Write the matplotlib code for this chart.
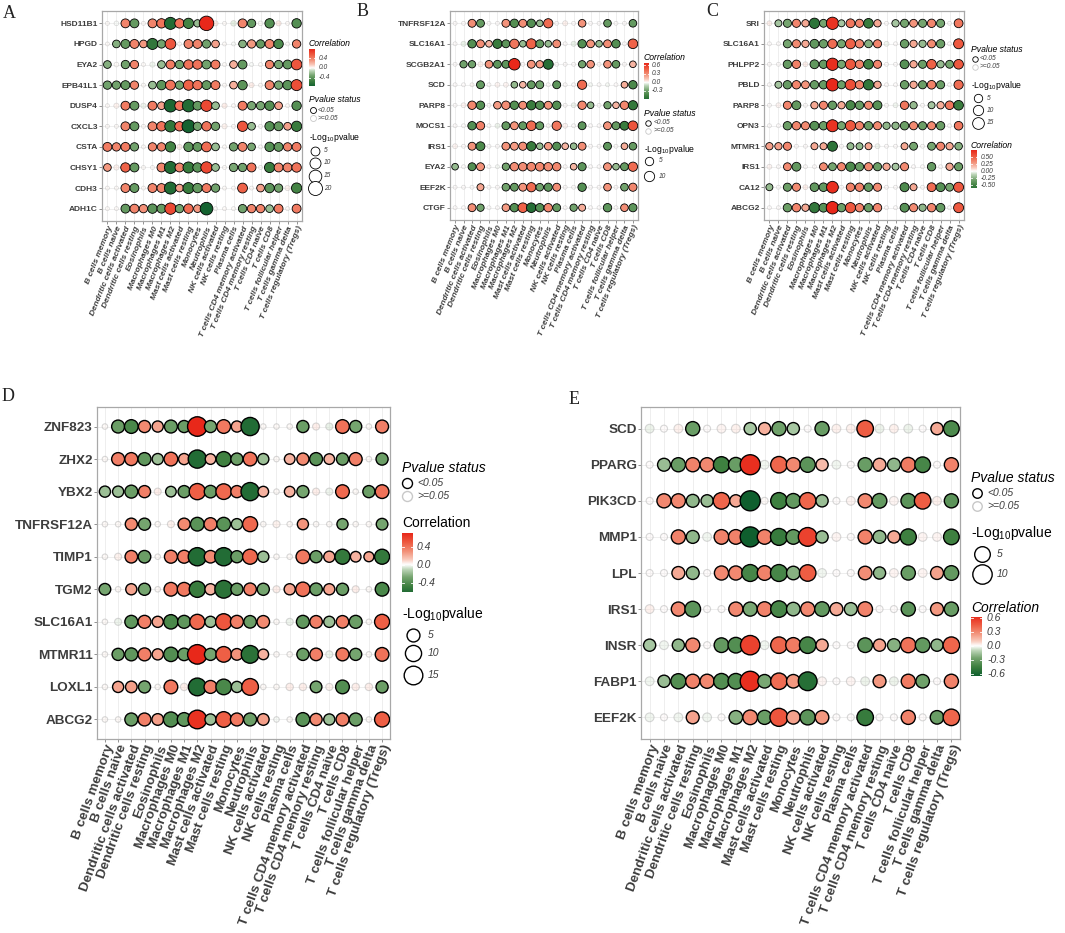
import numpy as np
import matplotlib
matplotlib.use("Agg")
import matplotlib.pyplot as plt
from matplotlib.colors import LinearSegmentedColormap

plt.rcParams["font.family"] = ["Liberation Sans", "DejaVu Sans"]
plt.rcParams["mathtext.fontset"] = "custom"
plt.rcParams["mathtext.rm"] = "Liberation Sans"
plt.rcParams["mathtext.it"] = "Liberation Sans:italic"
plt.rcParams["mathtext.default"] = "regular"

cells = ["B cells memory", "B cells naive", "Dendritic cells activated", "Dendritic cells resting",
         "Eosinophils", "Macrophages M0", "Macrophages M1", "Macrophages M2", "Mast cells activated",
         "Mast cells resting", "Monocytes", "Neutrophils", "NK cells activated", "NK cells resting",
         "Plasma cells", "T cells CD4 memory activated", "T cells CD4 memory resting",
         "T cells CD4 naive", "T cells CD8", "T cells follicular helper", "T cells gamma delta",
         "T cells regulatory (Tregs)"]

# ---------------- panel A ----------------
genes_a = ["HSD11B1", "HPGD", "EYA2", "EPB41L1", "DUSP4", "CXCL3", "CSTA", "CHSY1", "CDH3", "ADH1C"]
corr_a = [
    [0.03, -0.03, 0.38, -0.38, 0.03, 0.38, 0.45, -0.68, 0.45, -0.52, -0.22, 0.78, 0.15, 0.03, -0.15, 0.38, -0.38, 0.03, -0.45, 0.15, 0.03, -0.45],
    [0.03, -0.27, -0.38, 0.38, 0.3, -0.6, -0.33, 0.57, 0.03, 0.38, 0.38, -0.33, 0.27, 0.03, -0.03, -0.27, 0.3, -0.38, 0.38, -0.48, 0.03, 0.38],
    [-0.27, 0.03, -0.33, 0.38, 0.03, -0.08, -0.22, 0.42, -0.33, 0.45, 0.45, -0.33, 0.42, 0.03, 0.22, -0.38, -0.03, 0.03, 0.38, -0.3, -0.38, 0.57],
    [-0.33, -0.33, -0.38, 0.38, 0.03, -0.22, -0.42, 0.45, -0.33, 0.52, 0.45, -0.38, 0.42, 0.03, 0.22, -0.42, 0.12, 0.03, 0.38, -0.3, -0.42, 0.6],
    [0.03, 0.09, 0.42, -0.38, -0.09, 0.42, 0.27, -0.72, 0.45, -0.68, -0.38, 0.63, -0.22, 0.12, 0.03, 0.42, -0.3, -0.3, -0.45, 0.27, 0.03, -0.45],
    [0.03, 0.03, 0.38, -0.38, 0.03, 0.38, 0.45, -0.6, 0.48, -0.75, -0.33, 0.45, -0.33, 0.09, 0.03, 0.57, -0.22, 0.03, -0.45, -0.38, 0.27, -0.57],
    [0.42, 0.38, 0.42, -0.33, 0.03, 0.38, 0.38, -0.52, 0.12, -0.42, -0.38, 0.48, -0.22, 0.03, -0.33, 0.38, -0.3, 0.03, -0.45, -0.38, 0.38, 0.42],
    [0.3, 0.09, 0.52, -0.38, 0.03, 0.03, 0.38, -0.68, 0.38, -0.57, -0.42, 0.63, -0.22, 0.03, -0.3, -0.33, 0.45, 0.03, -0.57, 0.38, 0.38, 0.45],
    [0.03, 0.03, 0.38, -0.38, 0.03, 0.38, 0.38, -0.68, 0.27, -0.57, -0.38, 0.42, -0.33, 0.03, 0.03, 0.52, 0.03, 0.27, -0.42, -0.33, 0.09, -0.52],
    [0.03, 0.03, -0.38, 0.38, 0.33, -0.42, -0.38, 0.63, -0.33, 0.48, 0.3, -0.75, 0.03, 0.03, 0.03, -0.33, 0.38, 0.38, -0.22, 0.42, 0.03, 0.42],
]
logp_a = [
    [0.3, 0.4, 5, 5, 0.3, 5, 6, 13, 6, 8, 2.5, 22, 0.6, 0.3, 0.8, 5, 4, 0.4, 6, 0.6, 0.3, 6],
    [0.3, 3, 5, 5, 3, 10, 4, 9, 0.3, 5, 5, 4, 3, 0.3, 0.3, 3, 4, 4, 5, 6, 0.3, 4],
    [3, 0.4, 4, 4, 0.3, 0.6, 3, 5, 4, 6, 6, 5, 5, 0.3, 3, 5, 0.3, 0.3, 4, 4, 5, 9],
    [4, 4, 5, 4, 0.3, 3, 6, 7, 4, 8, 6, 5, 5, 0.3, 3, 6, 0.6, 0.3, 5, 4, 6, 10],
    [0.3, 0.6, 5, 5, 0.6, 5, 3, 15, 6, 14, 5, 11, 3, 0.6, 0.3, 5, 4, 4, 6, 3, 0.3, 6],
    [0.3, 0.3, 5, 5, 0.3, 5, 6, 11, 6, 16, 4, 6, 4, 0.6, 0.3, 8, 3, 0.3, 6, 5, 3, 8],
    [5, 4, 5, 4, 0.3, 4, 4, 8, 0.6, 6, 5, 7, 3, 0.3, 4, 5, 3, 0.3, 6, 5, 4, 5],
    [3, 0.6, 6, 5, 0.3, 0.3, 5, 13, 5, 10, 6, 11, 3, 0.3, 4, 4, 5, 0.3, 8, 5, 5, 6],
    [0.3, 0.3, 5, 5, 0.3, 5, 5, 13, 3, 10, 6, 5, 4, 0.3, 0.3, 7, 0.3, 3, 6, 4, 0.6, 8],
    [0.3, 0.3, 5, 5, 4, 6, 5, 11, 4, 6, 3, 15, 0.3, 0.3, 0.3, 4, 4, 4, 3, 5, 0.3, 5],
]

# ---------------- panel B ----------------
genes_b = ["TNFRSF12A", "SLC16A1", "SCGB2A1", "SCD", "PARP8", "MOCS1", "IRS1", "EYA2", "EEF2K", "CTGF"]
corr_b = [
    [0.02, 0.02, 0.3, -0.33, 0.02, 0.02, 0.28, -0.39, 0.3, -0.39, -0.2, 0.42, 0.02, 0.08, 0.02, 0.28, 0.02, 0.02, -0.33, 0.02, 0.02, -0.33],
    [0.02, -0.1, -0.39, 0.3, 0.18, -0.49, -0.36, 0.38, -0.2, 0.45, -0.33, -0.2, 0.3, 0.02, -0.1, -0.39, 0.28, -0.2, 0.3, -0.39, 0.02, 0.45],
    [0.02, -0.29, -0.29, 0.08, 0.28, -0.36, -0.36, 0.68, 0.02, 0.28, 0.25, -0.58, 0.02, 0.02, 0.02, -0.29, 0.28, 0.02, 0.28, -0.33, 0.02, 0.18],
    [0.02, 0.02, 0.05, -0.33, 0.02, 0.06, 0.06, -0.2, 0.18, -0.33, -0.29, 0.02, -0.36, 0.02, 0.02, 0.42, -0.04, 0.02, -0.04, 0.02, 0.2, -0.42],
    [0.02, 0.06, 0.32, -0.39, 0.02, 0.25, 0.3, -0.39, 0.3, -0.49, -0.39, 0.28, -0.39, 0.02, -0.08, 0.32, -0.2, 0.02, -0.29, 0.18, 0.32, -0.52],
    [0.02, 0.02, -0.39, 0.35, 0.02, -0.08, -0.33, 0.28, -0.33, 0.42, -0.33, 0.03, 0.38, 0.06, 0.02, -0.36, 0.02, 0.02, 0.28, -0.33, -0.49, 0.5],
    [0.06, 0.02, 0.28, -0.42, 0.02, 0.02, 0.28, 0.25, 0.3, -0.49, -0.2, 0.25, -0.39, 0.18, -0.2, 0.3, 0.02, 0.02, -0.36, 0.02, 0.2, -0.33],
    [-0.2, 0.02, -0.39, 0.28, 0.02, -0.04, -0.29, 0.3, 0.3, 0.32, 0.32, 0.3, 0.32, 0.02, 0.18, -0.36, 0.02, 0.02, 0.28, -0.2, -0.33, 0.42],
    [0.02, 0.02, 0.02, 0.22, 0.02, 0.02, -0.29, -0.33, 0.28, 0.42, -0.29, -0.36, 0.3, 0.02, 0.02, -0.39, 0.02, 0.02, 0.28, 0.02, -0.29, 0.32],
    [0.02, 0.02, 0.3, -0.29, 0.02, 0.02, 0.25, -0.39, 0.45, -0.58, -0.39, 0.32, -0.33, 0.02, -0.29, 0.2, 0.02, 0.02, -0.36, 0.02, 0.3, -0.36],
]
logp_b = [
    [0.3, 0.3, 4, 4, 0.3, 0.3, 4, 5, 4, 5, 2, 7, 0.3, 0.6, 0.3, 3.5, 0.3, 0.3, 3.5, 0.3, 0.3, 3.5],
    [0.3, 0.6, 5, 4, 2, 7, 4, 7, 2, 9, 4, 2, 4, 0.3, 0.6, 5, 4, 2, 4, 5, 0.3, 8],
    [0.3, 3, 3, 0.6, 3.5, 4, 4, 14, 0.3, 4, 3, 9, 0.3, 0.3, 0.3, 3, 3.5, 0.3, 3.5, 3.5, 0.3, 2],
    [0.3, 0.3, 0.3, 4, 0.3, 0.5, 0.5, 2, 2, 4, 4, 0.3, 4, 0.3, 0.3, 7, 0.3, 0.3, 0.3, 0.3, 2, 5],
    [0.3, 0.5, 5, 5, 0.3, 3.5, 5, 5, 4, 7, 5, 4, 5, 0.3, 0.5, 5, 2, 0.3, 3, 2, 5, 7],
    [0.3, 0.3, 5, 5, 0.3, 0.5, 4, 4, 4, 8, 4, 0.3, 7, 0.5, 0.3, 4, 0.3, 0.3, 4, 4, 6, 8],
    [0.5, 0.3, 4, 6, 0.3, 0.3, 4, 4, 4.5, 7, 2, 3.5, 4.5, 2, 2, 4, 0.3, 0.3, 4, 0.3, 2, 3.5],
    [2, 0.3, 4, 4, 0.3, 0.3, 3, 5, 5, 5.5, 5.5, 5, 5, 0.3, 2, 4.5, 0.3, 0.3, 4, 2, 4, 7],
    [0.3, 0.3, 0.3, 2.5, 0.3, 0.3, 3.5, 4, 4, 7, 3.5, 4.5, 4, 0.3, 0.3, 5, 0.3, 0.3, 3.5, 0.3, 3.5, 4.5],
    [0.3, 0.3, 4, 3, 0.3, 0.3, 3.5, 5, 8, 8, 5, 5, 4, 0.3, 3, 2.5, 0.3, 0.3, 5, 0.3, 3.5, 4.5],
]

# ---------------- panel C ----------------
genes_c = ["SRI", "SLC16A1", "PHLPP2", "PBLD", "PARP8", "OPN3", "MTMR1", "IRS1", "CA12", "ABCG2"]
corr_c = [
    [0.1, -0.18, -0.3, 0.36, 0.24, -0.6, -0.3, 0.7, -0.18, 0.42, 0.36, -0.54, 0.24, 0.02, -0.18, -0.3, 0.3, -0.3, 0.36, -0.3, 0.02, 0.42],
    [0.02, 0.02, -0.3, 0.34, 0.24, -0.38, -0.34, 0.46, -0.3, 0.5, 0.36, -0.26, 0.36, -0.07, 0.02, -0.34, 0.24, -0.22, 0.34, -0.34, 0.02, 0.54],
    [0.02, 0.02, -0.36, 0.38, 0.1, -0.38, -0.36, 0.72, -0.3, 0.54, 0.38, -0.5, 0.36, 0.02, 0.02, -0.42, 0.24, -0.34, 0.5, -0.22, -0.3, 0.54],
    [0.02, -0.18, -0.36, 0.36, 0.3, -0.36, -0.36, 0.74, -0.34, 0.58, 0.38, -0.58, 0.24, 0.02, 0.02, -0.34, 0.24, -0.34, 0.38, -0.34, 0.02, 0.46],
    [0.02, 0.07, 0.36, -0.38, 0.02, 0.24, 0.36, -0.36, 0.24, -0.48, -0.36, 0.34, -0.42, 0.02, -0.07, 0.42, -0.22, 0.02, -0.18, 0.22, 0.42, -0.54],
    [0.02, 0.02, -0.34, 0.36, 0.34, -0.42, -0.34, 0.7, -0.3, 0.54, 0.38, -0.34, 0.34, -0.24, -0.24, -0.34, 0.34, -0.34, 0.34, -0.34, 0.02, 0.42],
    [0.26, 0.26, 0.36, 0.02, 0.02, 0.24, 0.24, -0.6, 0.02, -0.22, -0.22, 0.24, -0.07, 0.02, 0.02, 0.24, -0.3, 0.02, -0.3, 0.36, 0.24, -0.26],
    [0.07, 0.02, 0.34, -0.38, 0.02, 0.02, 0.34, -0.3, 0.36, -0.46, -0.34, 0.34, -0.34, 0.24, -0.18, 0.34, 0.02, 0.02, -0.36, 0.02, 0.24, -0.34],
    [-0.22, 0.02, -0.34, 0.34, 0.1, -0.38, -0.38, 0.72, 0.02, 0.38, 0.38, -0.36, 0.34, 0.02, 0.02, -0.46, 0.24, 0.02, 0.46, -0.42, -0.3, 0.54],
    [0.02, 0.02, -0.34, 0.36, 0.24, -0.58, -0.42, 0.75, -0.34, 0.54, 0.38, -0.34, 0.36, 0.02, 0.02, -0.42, 0.34, -0.24, 0.36, -0.36, 0.02, 0.54],
]
logp_c = [
    [0.5, 2.5, 4.5, 4.5, 3, 10, 4, 17, 2.5, 6, 4.5, 8, 3, 0.3, 3, 4.5, 4, 4.5, 5, 4.5, 0.3, 6],
    [0.3, 0.3, 4.5, 4.5, 3, 6, 5, 7, 4.5, 9, 5, 4, 4.5, 0.5, 0.3, 5, 3, 3, 4.5, 5, 0.3, 9],
    [0.3, 0.3, 5, 5, 0.5, 6, 5, 17, 4.5, 10, 5, 8, 4.5, 0.3, 0.3, 6, 3, 4.5, 8, 3, 4, 8],
    [0.3, 2.5, 5, 5, 4, 5, 5, 18, 4.5, 11, 5, 10, 3, 0.3, 0.3, 5, 3, 4.5, 5.5, 4.5, 0.3, 7],
    [0.3, 0.5, 4.5, 6, 0.3, 3, 4.5, 5, 3, 7, 5, 4.5, 6, 0.3, 0.5, 5, 3, 0.3, 2.5, 3, 5.5, 8],
    [0.3, 0.3, 5, 5, 4.5, 6, 5, 16, 4.5, 10, 5, 5, 4.5, 3, 3, 5, 4.5, 4.5, 4.5, 5, 0.3, 5.5],
    [3, 3, 4.5, 0.3, 0.3, 2.5, 2.5, 9, 0.3, 2.5, 2.5, 2.5, 0.5, 0.3, 0.3, 2.5, 4, 0.3, 4, 4.5, 3, 3.5],
    [0.5, 0.3, 4, 6, 0.3, 0.3, 4, 4, 4.5, 7, 5, 4.5, 4.5, 3, 2.5, 4.5, 0.3, 0.3, 5, 0.3, 3, 4.5],
    [2.5, 0.3, 4.5, 4.5, 0.5, 5.5, 5.5, 15, 0.3, 5, 5, 5, 4.5, 0.3, 0.3, 6.5, 2.5, 0.3, 6, 6, 4, 9],
    [0.3, 0.3, 5, 5, 3, 10, 6, 18, 5, 10, 5, 5, 5, 0.3, 0.3, 6, 4.5, 3, 5, 5.5, 0.3, 9],
]

# ---------------- panel D ----------------
genes_d = ["ZNF823", "ZHX2", "YBX2", "TNFRSF12A", "TIMP1", "TGM2", "SLC16A1", "MTMR11", "LOXL1", "ABCG2"]
corr_d = [
    [0.03, -0.32, -0.44, 0.32, 0.23, -0.32, -0.32, 0.7, -0.28, 0.38, 0.23, -0.61, 0.03, 0.03, 0.03, -0.32, 0.1, -0.1, 0.41, -0.28, 0.03, 0.36],
    [0.03, 0.36, 0.38, -0.36, -0.19, 0.41, 0.23, -0.61, 0.19, -0.48, -0.32, 0.41, -0.19, 0.03, 0.19, 0.32, -0.38, 0.19, -0.32, 0.36, 0.03, -0.32],
    [-0.19, -0.19, -0.32, 0.36, 0.1, -0.19, -0.32, 0.48, -0.32, 0.44, 0.36, -0.61, 0.19, 0.03, 0.19, -0.28, 0.1, -0.08, 0.44, 0.03, -0.32, 0.41],
    [0.03, 0.03, 0.32, -0.28, 0.03, 0.08, 0.32, -0.38, 0.36, -0.38, -0.19, 0.44, 0.03, 0.08, 0.03, 0.28, 0.03, 0.03, -0.28, 0.03, 0.03, -0.28],
    [0.03, 0.08, 0.36, -0.32, 0.03, 0.36, 0.36, -0.61, 0.32, -0.61, -0.32, 0.44, -0.19, 0.03, 0.03, 0.38, -0.32, 0.23, -0.53, 0.19, 0.23, -0.53],
    [-0.28, 0.03, 0.23, -0.28, 0.03, 0.38, 0.38, -0.51, 0.19, -0.57, -0.32, 0.36, -0.28, 0.1, 0.23, 0.41, -0.32, 0.23, -0.32, 0.1, 0.03, -0.44],
    [0.03, -0.08, -0.36, 0.36, 0.23, -0.44, -0.36, 0.44, -0.19, 0.51, 0.36, -0.32, 0.32, 0.03, -0.08, -0.36, 0.36, -0.19, 0.36, -0.32, 0.03, 0.48],
    [0.03, -0.32, -0.36, 0.36, 0.23, -0.41, -0.32, 0.7, -0.28, 0.48, 0.28, -0.57, 0.19, 0.03, 0.03, -0.32, 0.36, -0.08, 0.38, -0.28, 0.03, 0.41],
    [0.03, 0.23, 0.25, -0.28, 0.03, 0.38, 0.1, -0.61, 0.36, -0.44, -0.19, 0.48, 0.03, 0.03, 0.1, 0.1, -0.28, 0.08, -0.41, 0.1, 0.1, -0.32],
    [0.03, 0.03, -0.32, 0.36, 0.25, -0.41, -0.36, 0.66, -0.19, 0.48, 0.38, -0.32, 0.25, -0.03, 0.03, -0.38, 0.32, -0.19, 0.36, -0.32, 0.03, 0.48],
]
logp_d = [
    [0.3, 5, 6, 4, 3, 5, 4, 17, 4, 6, 3, 14, 0.3, 0.3, 0.3, 4, 0.5, 0.5, 6, 4, 0.3, 5],
    [0.3, 5, 5, 5, 3, 6, 3, 14, 2.5, 8, 4, 6, 3, 0.3, 2.5, 4, 5, 2.5, 4, 5, 0.3, 4],
    [3, 3, 5, 4, 0.5, 2.5, 4, 10, 4.5, 9, 4, 14, 2.5, 0.3, 2.5, 4, 0.5, 0.5, 6, 0.3, 4, 6],
    [0.3, 0.3, 4, 4, 0.3, 0.5, 4, 6, 5, 6, 3, 8, 0.3, 0.5, 0.3, 3, 0.3, 0.3, 3, 0.3, 0.3, 3.5],
    [0.3, 0.5, 4.5, 4.5, 0.3, 5, 5, 14, 4.5, 14, 4, 8, 3, 0.3, 0.3, 6, 4, 3, 8, 2.5, 2, 8],
    [3.5, 0.3, 3, 4, 0.3, 6, 6, 10, 3, 13, 4, 4.5, 4, 0.5, 3, 7, 4.5, 3, 4, 0.5, 0.3, 6],
    [0.3, 0.5, 5, 5, 3, 7, 5, 8, 3, 10, 5, 4.5, 4.5, 0.3, 0.5, 5, 4.5, 3, 4.5, 5, 0.3, 8],
    [0.3, 4, 5, 5, 3, 7, 4.5, 17, 4, 9, 3.5, 13, 2.5, 0.3, 0.3, 4, 4.5, 0.5, 5, 4, 0.3, 6],
    [0.3, 3, 3.5, 4, 0.3, 6, 0.6, 13, 5, 9, 3, 11, 0.3, 0.3, 0.6, 0.6, 3.5, 0.5, 6, 0.6, 0.6, 4],
    [0.3, 0.3, 5, 5, 3.5, 8, 6, 15, 3, 9, 5, 5, 3.5, 0.3, 0.3, 6, 4, 3, 5, 5, 0.3, 8],
]

# ---------------- panel E ----------------
genes_e = ["SCD", "PPARG", "PIK3CD", "MMP1", "LPL", "IRS1", "INSR", "FABP1", "EEF2K"]
corr_e = [
    [-0.08, 0.02, 0.08, -0.3, 0.02, 0.06, 0.08, -0.15, 0.18, -0.28, -0.15, 0.02, -0.3, 0.08, 0.08, 0.45, -0.08, 0.08, -0.08, 0.02, 0.2, -0.4],
    [0.02, -0.18, -0.3, 0.32, 0.3, -0.45, -0.3, 0.62, -0.06, 0.42, 0.3, -0.35, 0.15, -0.06, 0.02, -0.3, 0.2, -0.2, 0.35, -0.42, 0.02, 0.32],
    [0.02, 0.3, 0.3, -0.2, -0.18, 0.42, 0.2, -0.65, 0.03, -0.45, -0.32, 0.42, -0.18, 0.02, 0.06, 0.3, -0.32, 0.06, -0.35, 0.45, 0.08, -0.35],
    [0.02, 0.02, 0.32, -0.2, -0.06, 0.32, 0.32, -0.65, 0.32, -0.48, -0.32, 0.55, -0.18, 0.06, 0.02, 0.32, -0.2, 0.2, -0.45, 0.06, 0.06, -0.45],
    [0.02, 0.02, 0.2, -0.2, 0.02, 0.3, 0.3, -0.42, 0.32, -0.42, -0.22, 0.45, -0.06, 0.02, 0.02, 0.28, -0.2, 0.06, -0.3, 0.06, 0.22, -0.32],
    [0.08, 0.02, 0.3, -0.35, 0.02, 0.02, 0.3, -0.25, 0.32, -0.42, -0.2, 0.3, -0.32, 0.2, -0.18, 0.32, 0.02, 0.02, -0.35, 0.02, 0.25, -0.3],
    [-0.15, -0.06, -0.2, 0.3, 0.02, -0.32, -0.38, 0.55, -0.06, 0.42, 0.35, -0.42, 0.2, 0.02, 0.02, -0.35, 0.22, -0.22, 0.38, -0.32, -0.2, 0.42],
    [-0.06, -0.18, -0.38, 0.32, 0.3, -0.38, -0.38, 0.62, -0.25, 0.4, 0.25, -0.55, 0.06, 0.02, 0.06, -0.08, 0.25, -0.08, 0.35, -0.28, 0.02, 0.32],
    [-0.06, 0.02, -0.06, 0.22, -0.06, 0.02, -0.22, 0.3, -0.3, 0.48, 0.22, -0.35, 0.25, 0.02, 0.02, -0.48, 0.02, 0.02, 0.32, 0.02, -0.3, 0.42],
]
logp_e = [
    [0.5, 0.3, 0.5, 3.5, 0.3, 0.5, 0.5, 2, 2, 3.5, 2, 0.3, 3.5, 0.5, 0.5, 6, 0.5, 0.5, 0.5, 0.3, 2, 5],
    [0.3, 2.5, 3.5, 3.5, 3.5, 5.5, 4, 11, 0.5, 6, 3.5, 4.5, 2, 0.5, 0.3, 3.5, 2.5, 2.5, 4, 5, 0.3, 3.5],
    [0.3, 3.5, 3.5, 2.5, 2, 6, 2, 11, 0.3, 6, 4, 6, 2, 0.3, 0.5, 3.5, 4, 0.5, 4, 6, 0.5, 3.5],
    [0.3, 0.3, 3.5, 2.5, 0.5, 4, 4, 11, 4, 6.5, 4, 9, 2, 0.5, 0.3, 3.5, 2.5, 2, 5.5, 0.5, 0.5, 5],
    [0.3, 0.3, 2.5, 2.5, 0.3, 3.5, 3.5, 6.5, 4, 6.5, 3, 6, 0.5, 0.3, 0.3, 3, 2, 0.5, 3.5, 0.5, 2.5, 4],
    [0.5, 0.3, 3.5, 5, 0.3, 0.3, 3.5, 3.5, 4, 6, 3, 3.5, 4, 2.5, 2.5, 4, 0.3, 0.3, 3.5, 0.3, 2.5, 3.5],
    [2, 0.5, 2, 3.5, 0.3, 4, 5, 10, 0.5, 6, 4.5, 6, 2, 0.3, 0.3, 4, 2, 2.5, 4.5, 4, 2, 6],
    [0.5, 2, 4.5, 3.5, 3.5, 5, 5, 11, 3, 6, 3, 9, 0.5, 0.3, 0.5, 0.5, 2.5, 0.5, 3.5, 3, 0.3, 3.5],
    [0.5, 0.3, 0.5, 2.5, 0.5, 0.3, 3, 4, 3.5, 8, 3, 4.5, 3, 0.3, 0.3, 6, 0.3, 0.3, 3.5, 0.3, 3, 6],
]

W, H = 1065, 933
fig = plt.figure(figsize=(W / 100, H / 100), dpi=100)
ov = fig.add_axes([0, 0, 1, 1], zorder=10)
ov.patch.set_alpha(0)
ov.axis("off")

# green - white - red, with saturated mid tones (ggplot gradient2 look)
cmap = LinearSegmentedColormap.from_list("gw", [
    (0.0, "#0f5f2e"), (0.15, "#3d7f3f"), (0.3, "#76a570"), (0.42, "#bcd5b7"),
    (0.5, "#ffffff"),
    (0.58, "#f9cbbd"), (0.7, "#f3957d"), (0.85, "#ee5c42"), (1.0, "#e8281a")])
TXT = "#3d3d3d"


def px2pt(d):
    return (d * 0.72) ** 2


def panel(rect, genes, corr, logp, drange, lw, fs_y, fs_x, x_italic, rot):
    x0, y0, x1, y1 = rect
    ax = fig.add_axes([x0 / W, 1 - y1 / H, (x1 - x0) / W, (y1 - y0) / H])
    corr = np.array(corr, dtype=float)
    logp = np.array(logp, dtype=float)
    nr, nc = corr.shape
    m = np.abs(corr).max()
    norm = plt.Normalize(-m, m)
    lo, hi = logp.min(), logp.max()

    def diam(v):
        f = np.clip((np.asarray(v, float) - lo) / (hi - lo), 0, 1)
        return drange[0] + (drange[1] - drange[0]) * np.sqrt(f)

    jj, ii = np.meshgrid(np.arange(nc), np.arange(nr))
    sig = logp > 1.3
    col = cmap(norm(corr))
    # non significant: faded
    fc = col[~sig].copy()
    fc[:, 3] = 0.35
    ax.scatter(jj[~sig], ii[~sig], s=px2pt(diam(logp[~sig])), facecolors=fc,
               edgecolors=(0.72, 0.72, 0.72, 0.55), linewidths=lw * 0.8, zorder=3)
    ax.scatter(jj[sig], ii[sig], s=px2pt(diam(logp[sig])), facecolors=col[sig],
               edgecolors="black", linewidths=lw, zorder=4)
    ax.set_xlim(-0.6, nc - 0.4)
    ax.set_ylim(nr - 0.4, -0.6)
    ax.set_xticks(range(nc))
    ax.set_yticks(range(nr))
    ax.set_yticklabels(genes, fontsize=fs_y, fontweight="bold", color=TXT)
    ax.set_xticklabels(cells, rotation=rot, ha="right", va="top", rotation_mode="anchor",
                       fontsize=fs_x, fontweight="bold", color=TXT,
                       fontstyle="italic" if x_italic else "normal")
    ax.grid(True, color="#ebebeb", lw=0.6)
    ax.set_axisbelow(True)
    ax.tick_params(length=2, width=0.5, color="#666666", pad=1)
    for s in ax.spines.values():
        s.set_color("#a8a8a8")
        s.set_linewidth(0.9)
    return norm, diam, corr.min(), corr.max()


def title(x, y, txt, fs, italic=True):
    ov.text(x, y, txt, fontsize=fs, va="center", ha="left", color="black",
            fontstyle="italic" if italic else "normal")


def pstatus(x, y, cx, lx, ys, d, lw, fs_t, fs_l):
    title(x, y, "Pvalue status", fs_t)
    ov.scatter([cx], [ys[0]], s=px2pt(d), facecolors="white", edgecolors="black", linewidths=lw, zorder=6)
    ov.scatter([cx], [ys[1]], s=px2pt(d), facecolors="white", edgecolors="#c8c8c8", linewidths=lw, zorder=6)
    ov.text(lx, ys[0], "<0.05", fontsize=fs_l, va="center", fontstyle="italic", color=TXT)
    ov.text(lx, ys[1], ">=0.05", fontsize=fs_l, va="center", fontstyle="italic", color=TXT)


def sizeleg(x, y, cx, lx, ys, brk, diam, lw, fs_t, fs_l):
    title(x, y, r"-Log$_{10}$pvalue", fs_t, italic=False)
    for yy, b in zip(ys, brk):
        ov.scatter([cx], [yy], s=px2pt(diam(b)), facecolors="white", edgecolors="black", linewidths=lw, zorder=6)
        ov.text(lx, yy, str(b), fontsize=fs_l, va="center", fontstyle="italic", color=TXT)


def corrleg(x, y, bar, lx, vmin, vmax, norm, ticks, fmt, fs_t, fs_l, italic=True):
    title(x, y, "Correlation", fs_t, italic)
    bx0, bx1, by0, by1 = bar
    vals = np.linspace(vmax, vmin, 200)[:, None]
    ov.imshow(cmap(norm(vals)), extent=[bx0, bx1, by1, by0], aspect="auto",
              interpolation="bilinear", zorder=5)
    for t in ticks:
        yy = by0 + (vmax - t) / (vmax - vmin) * (by1 - by0)
        w = (bx1 - bx0) * 0.2
        ov.plot([bx0, bx0 + w], [yy, yy], color="white", lw=0.6, zorder=6)
        ov.plot([bx1 - w, bx1], [yy, yy], color="white", lw=0.6, zorder=6)
        ov.text(lx, yy, fmt.format(t), fontsize=fs_l, va="center", fontstyle="italic", color=TXT)


# panel A
na, da, mna, mxa = panel((102, 11, 302, 221), genes_a, corr_a, logp_a, (4, 14.5), 0.6, 6, 6, True, 68)
corrleg(309, 43, (309, 315, 49, 86), 319, mna, mxa, na, [-0.4, 0.0, 0.4], "{:.1f}", 6.2, 4.8)
pstatus(309, 99, 313, 318, [110, 118], 6, 0.6, 6.2, 4.8)
sizeleg(309, 137, 315, 324, [151, 163, 175.5, 188], [5, 10, 15, 20], da, 0.6, 6.2, 4.8)

# panel B
nb, db, mnb, mxb = panel((450, 11, 638, 220), genes_b, corr_b, logp_b, (4, 11.5), 0.6, 6, 6, True, 68)
corrleg(644, 57, (644, 649, 63, 99), 652, mnb, mxb, nb, [-0.3, 0.0, 0.3, 0.6], "{:.1f}", 6.2, 4.8)
pstatus(644, 114, 648, 654, [123, 131], 5.5, 0.6, 6.2, 4.8)
sizeleg(644, 149, 649, 659, [161, 176], [5, 10], db, 0.6, 6.2, 4.8)

# panel C
nc_, dc, mnc, mxc = panel((764, 11, 964, 220), genes_c, corr_c, logp_c, (4, 12.5), 0.6, 6, 6, True, 68)
pstatus(971, 50, 975, 980, [59, 67], 5.5, 0.6, 6.2, 4.8)
sizeleg(971, 85, 978, 987, [98, 110, 123], [5, 10, 15], dc, 0.6, 6.2, 4.8)
corrleg(971, 145, (971, 977, 150, 188), 981, mnc, mxc, nc_, [-0.5, -0.25, 0.0, 0.25, 0.5], "{:.2f}", 6.2, 4.8)

# panel D
nd, dd, mnd, mxd = panel((97, 407, 390, 739), genes_d, corr_d, logp_d, (5.5, 19.5), 1.0, 9.7, 9.7, False, 70)
pstatus(402, 468, 407, 417, [483, 496], 10, 1.0, 10, 7.5)
corrleg(402, 523, (402, 413, 533, 592), 417, mnd, mxd, nd, [-0.4, 0.0, 0.4], "{:.1f}", 10, 7.5, italic=False)
sizeleg(402, 614, 413, 428, [635, 653, 675], [5, 10, 15], dd, 1.0, 10, 7.5)

# panel E
ne, de, mne, mxe = panel((641, 407, 960, 739), genes_e, corr_e, logp_e, (7, 20), 1.0, 9.7, 9.7, False, 70)
pstatus(971, 478, 977, 987, [493, 506], 9.5, 1.0, 10, 7.5)
sizeleg(971, 533, 982, 997, [554, 574], [5, 10], de, 1.0, 10, 7.5)
corrleg(971, 608, (971, 982, 617, 676), 987, mne, mxe, ne, [-0.6, -0.3, 0.0, 0.3, 0.6], "{:.1f}", 10, 7.5)

# panel letters
for lab, x, y in [("A", 3, 5), ("B", 357, 3), ("C", 706, 3), ("D", 2, 388), ("E", 569, 391)]:
    ov.text(x, y, lab, fontsize=13, family="Liberation Serif", va="top", ha="left", color="#222222")

ov.set_xlim(0, W)
ov.set_ylim(H, 0)
fig.savefig("out.png", dpi=100)
